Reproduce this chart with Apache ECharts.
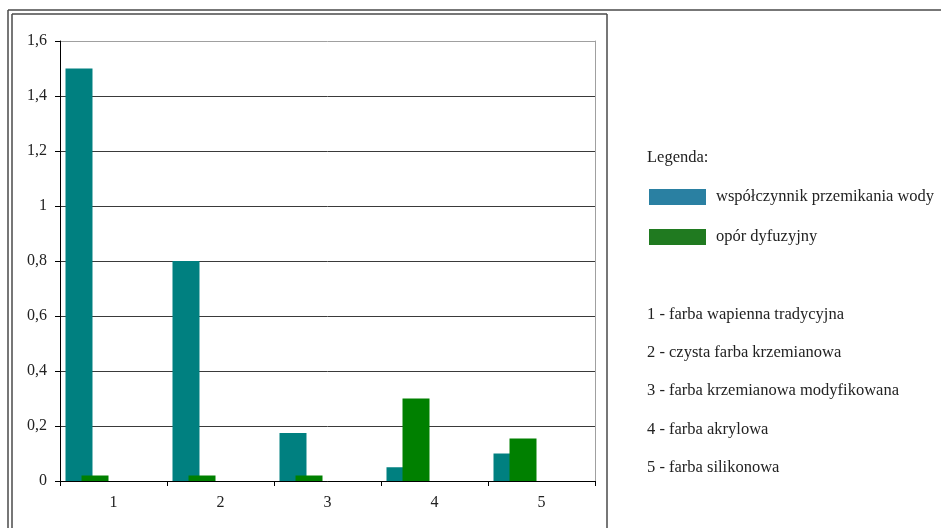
<!DOCTYPE html>
<html>
<head>
<meta charset="utf-8">
<script src="https://cdn.jsdelivr.net/npm/echarts@6/dist/echarts.min.js"></script>
<style>
html,body{margin:0;padding:0;background:#fff;}
#chart{width:941px;height:528px;}
</style>
</head>
<body>
<div id="chart"></div>
<script>
// ---- data ----
const categories = ['1', '2', '3', '4', '5'];
const descriptions = [
  'farba wapienna tradycyjna',
  'czysta farba krzemianowa',
  'farba krzemianowa modyfikowana',
  'farba akrylowa',
  'farba silikonowa'
];
const seriesNames = ['współczynnik przemikania wody', 'opór dyfuzyjny'];
const waterValues = [1.5, 0.8, 0.175, 0.05, 0.1];
const diffusionValues = [0.02, 0.02, 0.02, 0.3, 0.155];
const yTicks = { min: 0, max: 1.6, interval: 0.2 };
const legendTitle = 'Legenda:';

// ---- chart ----
const FONT = 'Liberation Serif';
const TXT = '#222';
const chart = echarts.init(document.getElementById('chart'), null, { renderer: 'canvas' });

const splitColors = [];
for (let i = 0; i < 9; i++) splitColors.push(i === 8 ? '#a0a0a0' : '#3a3a3a');

const listText = categories.map((c, i) => c + ' - ' + descriptions[i]).join('\n');

chart.setOption({
  backgroundColor: '#fff',
  animation: false,
  title: [
    { text: legendTitle, left: 647, top: 149, padding: 0,
      textStyle: { fontFamily: FONT, fontSize: 16.5, fontWeight: 'normal', color: TXT, lineHeight: 18 } },
    { text: listText, left: 647, top: 295, padding: 0,
      textStyle: { fontFamily: FONT, fontSize: 16.5, fontWeight: 'normal', color: TXT, lineHeight: 38.4 } }
  ],
  legend: {
    orient: 'vertical',
    left: 649, top: 187,
    padding: 0,
    itemWidth: 57, itemHeight: 16, itemGap: 20,
    icon: 'rect',
    selectedMode: false,
    textStyle: { fontFamily: FONT, fontSize: 16.5, color: TXT, lineHeight: 16, padding: [4, 0, 0, 5] },
    data: [
      { name: seriesNames[0], itemStyle: { color: '#2a80a2' } },
      { name: seriesNames[1], itemStyle: { color: '#207a20' } }
    ]
  },
  grid: [
    { left: 60, top: 41, width: 535, height: 440 },
    { left: 33.5, top: 41, width: 535, height: 440 }
  ],
  xAxis: [
    { type: 'category', gridIndex: 0, data: categories,
      axisLine: { lineStyle: { color: '#000', width: 1 } },
      axisTick: { show: true, length: 5, lineStyle: { color: '#000' } },
      axisLabel: { fontFamily: FONT, fontSize: 16, color: TXT, margin: 14 },
      splitLine: { show: false } },
    { type: 'category', gridIndex: 1, data: categories, show: false }
  ],
  yAxis: [
    { type: 'value', gridIndex: 0, min: yTicks.min, max: yTicks.max, interval: yTicks.interval,
      axisLine: { show: true, lineStyle: { color: '#000', width: 1 } },
      axisTick: { show: true, length: 5, lineStyle: { color: '#000' } },
      axisLabel: { fontFamily: FONT, fontSize: 16, color: TXT, margin: 13,
        formatter: v => String(Number(v.toFixed(1))).replace('.', ',') },
      splitLine: { show: true, lineStyle: { color: splitColors, width: 1 } } },
    { type: 'value', gridIndex: 0, position: 'right', min: yTicks.min, max: yTicks.max, interval: yTicks.interval,
      axisLine: { show: true, lineStyle: { color: '#a0a0a0', width: 1 } },
      axisTick: { show: false }, axisLabel: { show: false }, splitLine: { show: false } },
    { type: 'value', gridIndex: 1, min: yTicks.min, max: yTicks.max, interval: yTicks.interval, show: false,
      splitLine: { show: false } }
  ],
  series: [
    { name: seriesNames[0], type: 'bar', xAxisIndex: 1, yAxisIndex: 2,
      data: waterValues, barWidth: 27, barGap: '-40.7%',
      itemStyle: { color: '#008080' } },
    { name: seriesNames[1], type: 'bar', xAxisIndex: 1, yAxisIndex: 2,
      data: diffusionValues, barWidth: 27, barGap: '-40.7%',
      itemStyle: { color: '#008000' } }
  ],
  graphic: [
    { type: 'line', silent: true, shape: { x1: 8, y1: 10, x2: 941, y2: 10 }, style: { stroke: '#4a4a4a', lineWidth: 1.5 } },
    { type: 'line', silent: true, shape: { x1: 8, y1: 10, x2: 8, y2: 528 }, style: { stroke: '#4a4a4a', lineWidth: 1.5 } },
    { type: 'line', silent: true, shape: { x1: 12, y1: 14, x2: 607, y2: 14 }, style: { stroke: '#4a4a4a', lineWidth: 1.5 } },
    { type: 'line', silent: true, shape: { x1: 12, y1: 14, x2: 12, y2: 528 }, style: { stroke: '#4a4a4a', lineWidth: 1.5 } },
    { type: 'line', silent: true, shape: { x1: 607, y1: 14, x2: 607, y2: 528 }, style: { stroke: '#4a4a4a', lineWidth: 1.5 } }
  ]
});
</script>
</body>
</html>
